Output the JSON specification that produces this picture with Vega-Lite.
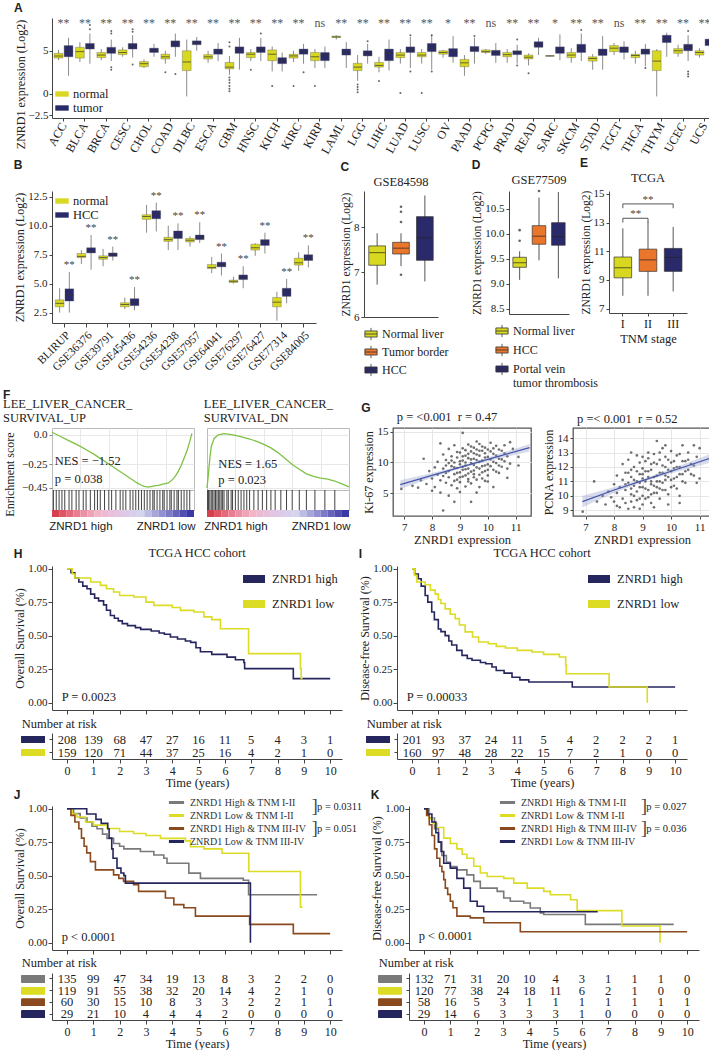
{
"$schema":"https://vega.github.io/schema/vega-lite/v6.json",
"background":"white",
"padding":{"left":3,"top":2,"right":2,"bottom":2},
"spacing":0,
"align":"none",
"resolve":{"scale":{"color":"independent","xOffset":"independent"},"legend":{"color":"independent"}},
"config":{
 "font":"Liberation Serif",
 "view":{"stroke":null},
 "axis":{"labelFont":"Liberation Serif","titleFont":"Liberation Serif","labelFontSize":11,"titleFontSize":12,"titleFontWeight":"normal","labelColor":"#222","titleColor":"#222","domainColor":"#444","tickColor":"#444","grid":false,"tickSize":3,"labelPadding":2,"titlePadding":3,"labelFlush":false,"labelOverlap":false},
 "legend":{"labelFont":"Liberation Serif","labelFontSize":12,"labelColor":"#222","titleFont":"Liberation Serif"},
 "title":{"font":"Liberation Serif","fontSize":12,"fontWeight":"normal","color":"#222","offset":3},
 "text":{"font":"Liberation Serif","color":"#222"},
 "concat":{"spacing":12}
},
"datasets":{
 "A":[
  {"type":"ACC","grp":"normal","lo":3.9,"q1":4.15,"med":4.4,"q3":4.7,"hi":5.1},{"type":"ACC","grp":"tumor","lo":2.1,"q1":4.3,"med":4.9,"q3":5.6,"hi":6.5},
  {"type":"BLCA","grp":"normal","lo":3.7,"q1":4.15,"med":4.9,"q3":5.4,"hi":6.0},{"type":"BLCA","grp":"tumor","lo":3.5,"q1":5.2,"med":5.5,"q3":5.85,"hi":7.0},
  {"type":"BRCA","grp":"normal","lo":3.9,"q1":4.2,"med":4.5,"q3":4.8,"hi":5.2},{"type":"BRCA","grp":"tumor","lo":3.8,"q1":4.7,"med":5.0,"q3":5.4,"hi":6.3},
  {"type":"CESC","grp":"normal","lo":4.3,"q1":4.55,"med":4.8,"q3":5.1,"hi":5.4},{"type":"CESC","grp":"tumor","lo":4.2,"q1":5.2,"med":5.5,"q3":5.85,"hi":6.8},
  {"type":"CHOL","grp":"normal","lo":3.0,"q1":3.15,"med":3.5,"q3":3.75,"hi":4.0},{"type":"CHOL","grp":"tumor","lo":4.3,"q1":4.8,"med":5.0,"q3":5.3,"hi":5.8},
  {"type":"COAD","grp":"normal","lo":3.5,"q1":4.05,"med":4.3,"q3":4.6,"hi":5.0},{"type":"COAD","grp":"tumor","lo":4.3,"q1":5.45,"med":5.8,"q3":6.15,"hi":7.0},
  {"type":"DLBC","grp":"normal","lo":-0.3,"q1":2.7,"med":3.7,"q3":5.0,"hi":6.3},{"type":"DLBC","grp":"tumor","lo":5.0,"q1":5.7,"med":5.9,"q3":6.15,"hi":6.6},
  {"type":"ESCA","grp":"normal","lo":3.6,"q1":4.05,"med":4.3,"q3":4.55,"hi":5.0},{"type":"ESCA","grp":"tumor","lo":3.8,"q1":4.6,"med":4.9,"q3":5.2,"hi":5.9},
  {"type":"GBM","grp":"normal","lo":2.2,"q1":2.9,"med":3.1,"q3":3.65,"hi":4.4},{"type":"GBM","grp":"tumor","lo":2.8,"q1":4.7,"med":5.1,"q3":5.45,"hi":6.5},
  {"type":"HNSC","grp":"normal","lo":3.8,"q1":4.2,"med":4.6,"q3":4.8,"hi":5.2},{"type":"HNSC","grp":"tumor","lo":3.8,"q1":4.8,"med":5.1,"q3":5.45,"hi":6.5},
  {"type":"KICH","grp":"normal","lo":2.6,"q1":3.85,"med":4.6,"q3":5.1,"hi":5.5},{"type":"KICH","grp":"tumor","lo":2.6,"q1":3.5,"med":3.8,"q3":4.2,"hi":4.8},
  {"type":"KIRC","grp":"normal","lo":3.7,"q1":4.15,"med":4.4,"q3":4.6,"hi":5.0},{"type":"KIRC","grp":"tumor","lo":3.5,"q1":4.6,"med":4.9,"q3":5.2,"hi":5.8},
  {"type":"KIRP","grp":"normal","lo":3.0,"q1":3.85,"med":4.3,"q3":4.8,"hi":5.2},{"type":"KIRP","grp":"tumor","lo":3.0,"q1":3.85,"med":4.5,"q3":4.8,"hi":5.5},
  {"type":"LAML","grp":"normal","lo":6.3,"q1":6.55,"med":6.6,"q3":6.7,"hi":6.8},{"type":"LAML","grp":"tumor","lo":3.0,"q1":4.5,"med":4.8,"q3":5.2,"hi":6.0},
  {"type":"LGG","grp":"normal","lo":1.5,"q1":2.7,"med":3.1,"q3":3.55,"hi":4.5},{"type":"LGG","grp":"tumor","lo":3.5,"q1":4.4,"med":4.7,"q3":5.0,"hi":5.8},
  {"type":"LIHC","grp":"normal","lo":2.5,"q1":3.1,"med":3.3,"q3":3.65,"hi":4.3},{"type":"LIHC","grp":"tumor","lo":2.7,"q1":3.85,"med":4.7,"q3":5.2,"hi":6.3},
  {"type":"LUAD","grp":"normal","lo":3.5,"q1":4.2,"med":4.5,"q3":4.8,"hi":5.2},{"type":"LUAD","grp":"tumor","lo":3.0,"q1":4.8,"med":5.1,"q3":5.45,"hi":6.6},
  {"type":"LUSC","grp":"normal","lo":3.5,"q1":4.3,"med":4.5,"q3":4.8,"hi":5.2},{"type":"LUSC","grp":"tumor","lo":2.8,"q1":4.9,"med":5.3,"q3":5.85,"hi":6.8},
  {"type":"OV","grp":"normal","lo":4.2,"q1":4.6,"med":4.8,"q3":5.0,"hi":5.1},{"type":"OV","grp":"tumor","lo":3.6,"q1":4.3,"med":4.8,"q3":5.25,"hi":6.7},
  {"type":"PAAD","grp":"normal","lo":2.1,"q1":3.15,"med":3.6,"q3":4.0,"hi":4.5},{"type":"PAAD","grp":"tumor","lo":3.5,"q1":4.9,"med":5.2,"q3":5.5,"hi":6.5},
  {"type":"PCPG","grp":"normal","lo":4.6,"q1":4.8,"med":4.9,"q3":5.1,"hi":5.2},{"type":"PCPG","grp":"tumor","lo":3.6,"q1":4.45,"med":4.75,"q3":5.05,"hi":5.9},
  {"type":"PRAD","grp":"normal","lo":3.6,"q1":4.3,"med":4.55,"q3":4.8,"hi":5.2},{"type":"PRAD","grp":"tumor","lo":3.5,"q1":4.55,"med":4.85,"q3":5.0,"hi":5.7},
  {"type":"READ","grp":"normal","lo":3.3,"q1":4.05,"med":4.25,"q3":4.5,"hi":4.7},{"type":"READ","grp":"tumor","lo":4.5,"q1":5.4,"med":5.75,"q3":6.05,"hi":6.5},
  {"type":"SARC","grp":"normal","lo":4.35,"q1":4.37,"med":4.4,"q3":4.43,"hi":4.45},{"type":"SARC","grp":"tumor","lo":3.9,"q1":4.7,"med":5.1,"q3":5.45,"hi":6.9},
  {"type":"SKCM","grp":"normal","lo":3.6,"q1":4.2,"med":4.5,"q3":4.8,"hi":5.3},{"type":"SKCM","grp":"tumor","lo":3.8,"q1":4.8,"med":5.3,"q3":5.75,"hi":7.0},
  {"type":"STAD","grp":"normal","lo":2.8,"q1":3.8,"med":4.1,"q3":4.3,"hi":4.6},{"type":"STAD","grp":"tumor","lo":2.8,"q1":4.45,"med":4.8,"q3":5.2,"hi":6.7},
  {"type":"TGCT","grp":"normal","lo":4.5,"q1":4.9,"med":5.3,"q3":5.6,"hi":5.9},{"type":"TGCT","grp":"tumor","lo":4.0,"q1":4.8,"med":5.2,"q3":5.45,"hi":6.1},
  {"type":"THCA","grp":"normal","lo":3.5,"q1":4.2,"med":4.45,"q3":4.6,"hi":5.0},{"type":"THCA","grp":"tumor","lo":3.2,"q1":4.6,"med":4.85,"q3":5.2,"hi":5.8},
  {"type":"THYM","grp":"normal","lo":-0.3,"q1":2.7,"med":3.8,"q3":5.0,"hi":5.2},{"type":"THYM","grp":"tumor","lo":4.3,"q1":5.95,"med":6.3,"q3":6.8,"hi":7.1},
  {"type":"UCEC","grp":"normal","lo":4.3,"q1":4.7,"med":5.0,"q3":5.25,"hi":5.7},{"type":"UCEC","grp":"tumor","lo":3.8,"q1":5.0,"med":5.4,"q3":5.75,"hi":6.8},
  {"type":"UCS","grp":"normal","lo":4.2,"q1":4.5,"med":4.8,"q3":5.0,"hi":5.3},{"type":"UCS","grp":"tumor","lo":5.0,"q1":5.6,"med":6.0,"q3":6.35,"hi":6.7}
 ],
 "Asig":[
  {"type":"ACC","sig":"**"},{"type":"BLCA","sig":"**"},{"type":"BRCA","sig":"**"},{"type":"CESC","sig":"**"},{"type":"CHOL","sig":"**"},{"type":"COAD","sig":"**"},{"type":"DLBC","sig":"**"},{"type":"ESCA","sig":"**"},{"type":"GBM","sig":"**"},{"type":"HNSC","sig":"**"},{"type":"KICH","sig":"**"},{"type":"KIRC","sig":"**"},{"type":"KIRP","sig":"ns"},{"type":"LAML","sig":"**"},{"type":"LGG","sig":"**"},{"type":"LIHC","sig":"**"},{"type":"LUAD","sig":"**"},{"type":"LUSC","sig":"**"},{"type":"OV","sig":"*"},{"type":"PAAD","sig":"**"},{"type":"PCPG","sig":"ns"},{"type":"PRAD","sig":"**"},{"type":"READ","sig":"**"},{"type":"SARC","sig":"*"},{"type":"SKCM","sig":"**"},{"type":"STAD","sig":"**"},{"type":"TGCT","sig":"ns"},{"type":"THCA","sig":"**"},{"type":"THYM","sig":"**"},{"type":"UCEC","sig":"**"},{"type":"UCS","sig":"**"}
 ],
 "Aout":[
  {"type":"BLCA","grp":"tumor","v":[7.5,8.0]},{"type":"BRCA","grp":"tumor","v":[2.8,3.1,7.0,7.3]},{"type":"CESC","grp":"tumor","v":[3.4,7.2,7.5]},{"type":"COAD","grp":"normal","v":[2.5]},{"type":"COAD","grp":"tumor","v":[2.3]},{"type":"GBM","grp":"normal","v":[0.3,0.6,0.9,1.3,1.6,1.9,5.5,6.0]},{"type":"HNSC","grp":"normal","v":[2.8]},{"type":"HNSC","grp":"tumor","v":[7.0]},{"type":"KICH","grp":"normal","v":[0.9]},{"type":"KIRC","grp":"normal","v":[0.9]},{"type":"KIRC","grp":"tumor","v":[2.5]},{"type":"KIRP","grp":"normal","v":[0.9]},{"type":"LGG","grp":"normal","v":[0.2,0.5,0.8,1.1]},{"type":"LGG","grp":"tumor","v":[6.1]},{"type":"LIHC","grp":"normal","v":[1.5]},{"type":"LUAD","grp":"normal","v":[0.1]},{"type":"LUAD","grp":"tumor","v":[2.6,6.8]},{"type":"LUSC","grp":"normal","v":[0.1]},{"type":"LUSC","grp":"tumor","v":[2.6,6.8]},{"type":"PAAD","grp":"tumor","v":[6.7]},{"type":"PRAD","grp":"tumor","v":[3.3,6.3]},{"type":"READ","grp":"normal","v":[2.4]},{"type":"SKCM","grp":"tumor","v":[7.4]},{"type":"THCA","grp":"tumor","v":[3.0]},{"type":"UCEC","grp":"tumor","v":[2.0,2.3,2.6,7.3]}
 ],
 "B":[
  {"ds":"BLIRUP","grp":"normal","lo":2.5,"q1":3.0,"med":3.3,"q3":3.6,"hi":4.6},{"ds":"BLIRUP","grp":"HCC","lo":2.5,"q1":3.5,"med":4.0,"q3":4.55,"hi":6.0},
  {"ds":"GSE36376","grp":"normal","lo":6.7,"q1":7.25,"med":7.35,"q3":7.6,"hi":7.9},{"ds":"GSE36376","grp":"HCC","lo":6.2,"q1":7.65,"med":7.8,"q3":8.1,"hi":9.2},
  {"ds":"GSE39791","grp":"normal","lo":6.5,"q1":7.1,"med":7.25,"q3":7.4,"hi":8.0},{"ds":"GSE39791","grp":"HCC","lo":7.0,"q1":7.35,"med":7.5,"q3":7.65,"hi":8.2},
  {"ds":"GSE45436","grp":"normal","lo":2.8,"q1":3.0,"med":3.2,"q3":3.35,"hi":3.8},{"ds":"GSE45436","grp":"HCC","lo":2.7,"q1":3.1,"med":3.4,"q3":3.7,"hi":4.7},
  {"ds":"GSE54236","grp":"normal","lo":9.4,"q1":10.55,"med":10.8,"q3":10.95,"hi":11.8},{"ds":"GSE54236","grp":"HCC","lo":9.5,"q1":10.6,"med":11.0,"q3":11.3,"hi":12.0},
  {"ds":"GSE54238","grp":"normal","lo":7.9,"q1":8.65,"med":8.8,"q3":9.0,"hi":10.0},{"ds":"GSE54238","grp":"HCC","lo":7.9,"q1":8.9,"med":9.2,"q3":9.55,"hi":10.2},
  {"ds":"GSE57957","grp":"normal","lo":8.2,"q1":8.6,"med":8.75,"q3":8.9,"hi":9.1},{"ds":"GSE57957","grp":"HCC","lo":8.5,"q1":8.8,"med":9.0,"q3":9.2,"hi":10.3},
  {"ds":"GSE64041","grp":"normal","lo":5.9,"q1":6.3,"med":6.4,"q3":6.65,"hi":7.3},{"ds":"GSE64041","grp":"HCC","lo":5.7,"q1":6.45,"med":6.6,"q3":6.85,"hi":7.6},
  {"ds":"GSE76297","grp":"normal","lo":5.0,"q1":5.1,"med":5.2,"q3":5.3,"hi":5.6},{"ds":"GSE76297","grp":"HCC","lo":4.6,"q1":5.35,"med":5.5,"q3":5.75,"hi":6.5},
  {"ds":"GSE76427","grp":"normal","lo":7.4,"q1":7.9,"med":8.1,"q3":8.4,"hi":8.5},{"ds":"GSE76427","grp":"HCC","lo":7.6,"q1":8.3,"med":8.6,"q3":8.8,"hi":9.4},
  {"ds":"GSE77314","grp":"normal","lo":1.8,"q1":3.0,"med":3.4,"q3":3.8,"hi":4.3},{"ds":"GSE77314","grp":"HCC","lo":3.3,"q1":3.9,"med":4.3,"q3":4.6,"hi":5.4},
  {"ds":"GSE84005","grp":"normal","lo":6.1,"q1":6.6,"med":6.8,"q3":7.2,"hi":7.7},{"ds":"GSE84005","grp":"HCC","lo":6.4,"q1":7.0,"med":7.2,"q3":7.5,"hi":8.3}
 ],
 "C":[{"g":"Normal liver","lo":6.72,"q1":7.15,"med":7.43,"q3":7.58,"hi":7.86},{"g":"Tumor border","lo":7.13,"q1":7.4,"med":7.53,"q3":7.66,"hi":7.86},{"g":"HCC","lo":6.79,"q1":7.26,"med":7.76,"q3":8.23,"hi":8.7}],
 "Cout":[{"g":"Tumor border","v":[8.45,8.34,8.11,6.94]}],
 "D":[{"g":"Normal liver","lo":9.08,"q1":9.33,"med":9.42,"q3":9.53,"hi":9.65},{"g":"HCC","lo":9.47,"q1":9.79,"med":9.95,"q3":10.16,"hi":10.72},{"g":"Portal vein tumor thrombosis","lo":9.11,"q1":9.77,"med":9.94,"q3":10.22,"hi":10.83}],
 "Dout":[{"g":"Normal liver","v":[10.07,9.86]},{"g":"HCC","v":[10.85]}],
 "E":[{"s":"I","lo":7.9,"q1":9.15,"med":9.85,"q3":10.6,"hi":12.6},{"s":"II","lo":7.9,"q1":9.6,"med":10.4,"q3":11.15,"hi":13.05},{"s":"III","lo":8.2,"q1":9.6,"med":10.57,"q3":11.2,"hi":12.7}],
 "F1":[{"x":[0,0.05,0.1,0.15,0.2,0.25,0.3,0.35,0.4,0.45,0.5,0.55,0.6,0.63,0.65,0.68,0.72,0.75,0.78,0.82,0.85,0.87,0.89,0.91,0.93,0.95,0.97,0.985],
        "es":[0.02,-0.01,-0.04,-0.07,-0.1,-0.135,-0.17,-0.21,-0.25,-0.29,-0.33,-0.37,-0.41,-0.43,-0.44,-0.445,-0.435,-0.43,-0.42,-0.41,-0.38,-0.35,-0.31,-0.26,-0.2,-0.14,-0.06,0.01]}],
 "F1hits":[{"x":[0.01,0.03,0.05,0.07,0.09,0.12,0.14,0.17,0.19,0.22,0.24,0.27,0.3,0.32,0.34,0.37,0.4,0.42,0.45,0.48,0.5,0.52,0.55,0.57,0.59,0.61,0.63,0.65,0.67,0.69,0.71,0.72,0.74,0.76,0.78,0.79,0.81,0.83,0.84,0.86,0.88,0.89,0.91,0.93,0.95,0.97]}],
 "F2":[{"x":[0,0.01,0.02,0.03,0.05,0.08,0.12,0.16,0.2,0.25,0.3,0.35,0.4,0.45,0.5,0.55,0.6,0.65,0.7,0.75,0.8,0.85,0.9,0.95,1.0],
        "es":[0,0.12,0.25,0.35,0.42,0.45,0.46,0.455,0.445,0.43,0.415,0.395,0.37,0.34,0.3,0.25,0.2,0.16,0.12,0.1,0.085,0.075,0.06,0.035,0.01]}],
 "F2hits":[{"x":[0.005,0.01,0.02,0.03,0.04,0.05,0.06,0.07,0.08,0.09,0.1,0.11,0.12,0.14,0.15,0.17,0.18,0.2,0.22,0.24,0.26,0.28,0.3,0.33,0.36,0.39,0.42,0.45,0.48,0.52,0.56,0.6,0.65,0.7,0.76,0.83,0.9]}],
 "heat":[{"p0":0,"p1":0.05},{"p0":0.05,"p1":0.1},{"p0":0.1,"p1":0.15},{"p0":0.15,"p1":0.2},{"p0":0.2,"p1":0.25},{"p0":0.25,"p1":0.3},{"p0":0.3,"p1":0.35},{"p0":0.35,"p1":0.4},{"p0":0.4,"p1":0.45},{"p0":0.45,"p1":0.5},{"p0":0.5,"p1":0.55},{"p0":0.55,"p1":0.6},{"p0":0.6,"p1":0.65},{"p0":0.65,"p1":0.7},{"p0":0.7,"p1":0.75},{"p0":0.75,"p1":0.8},{"p0":0.8,"p1":0.85},{"p0":0.85,"p1":0.9},{"p0":0.9,"p1":0.95},{"p0":0.95,"p1":1.0}],
 "G1":[
  {"x":6.9,"y":5.7},{"x":7.3,"y":6.2},{"x":7.5,"y":5.9},{"x":7.6,"y":7.1},{"x":7.8,"y":6.5},{"x":7.9,"y":8.6},{"x":8.0,"y":5.4},{"x":8.0,"y":7.4},{"x":8.1,"y":9.2},{"x":8.1,"y":6.0},
  {"x":8.2,"y":8.0},{"x":8.2,"y":10.1},{"x":8.3,"y":7.1},{"x":8.3,"y":5.1},{"x":8.4,"y":2.2},{"x":8.4,"y":9.0},{"x":8.4,"y":11.3},{"x":8.5,"y":6.7},{"x":8.5,"y":8.3},{"x":8.5,"y":10.4},
  {"x":8.6,"y":7.6},{"x":8.6,"y":12.2},{"x":8.6,"y":4.6},{"x":8.7,"y":9.4},{"x":8.7,"y":6.3},{"x":8.7,"y":11.0},{"x":8.8,"y":8.1},{"x":8.8,"y":10.0},{"x":8.8,"y":3.6},{"x":8.8,"y":12.8},
  {"x":8.9,"y":7.2},{"x":8.9,"y":9.1},{"x":8.9,"y":10.8},{"x":8.9,"y":5.8},{"x":9.0,"y":8.4},{"x":9.0,"y":11.6},{"x":9.0,"y":6.8},{"x":9.0,"y":9.7},{"x":9.1,"y":14.8},{"x":9.1,"y":7.7},
  {"x":9.1,"y":10.3},{"x":9.1,"y":12.3},{"x":9.2,"y":8.9},{"x":9.2,"y":6.1},{"x":9.2,"y":11.1},{"x":9.2,"y":9.5},{"x":9.3,"y":7.3},{"x":9.3,"y":10.7},{"x":9.3,"y":12.9},{"x":9.3,"y":8.2},
  {"x":9.4,"y":9.9},{"x":9.4,"y":11.8},{"x":9.4,"y":6.6},{"x":9.4,"y":3.6},{"x":9.5,"y":8.7},{"x":9.5,"y":10.6},{"x":9.5,"y":12.4},{"x":9.5,"y":7.6},{"x":9.6,"y":9.2},{"x":9.6,"y":11.3},
  {"x":9.6,"y":13.4},{"x":9.7,"y":8.0},{"x":9.7,"y":10.1},{"x":9.7,"y":11.9},{"x":9.7,"y":6.0},{"x":9.8,"y":9.4},{"x":9.8,"y":12.6},{"x":9.8,"y":7.4},{"x":9.9,"y":10.8},{"x":9.9,"y":8.6},
  {"x":9.9,"y":11.5},{"x":10.0,"y":9.7},{"x":10.0,"y":12.1},{"x":10.0,"y":7.9},{"x":10.0,"y":6.9},{"x":10.1,"y":10.5},{"x":10.1,"y":13.2},{"x":10.2,"y":8.8},{"x":10.2,"y":11.4},{"x":10.2,"y":6.0},
  {"x":10.3,"y":9.9},{"x":10.3,"y":12.7},{"x":10.4,"y":10.6},{"x":10.4,"y":8.3},{"x":10.5,"y":11.9},{"x":10.5,"y":9.3},{"x":10.6,"y":12.8},{"x":10.6,"y":10.2},{"x":10.7,"y":11.0},{"x":10.7,"y":7.5},
  {"x":10.8,"y":9.8},{"x":10.9,"y":12.2},{"x":11.1,"y":10.9},{"x":11.1,"y":9.5},{"x":7.7,"y":10.6},{"x":8.3,"y":13.1},{"x":9.6,"y":5.1},{"x":10.8,"y":13.3},{"x":9.0,"y":5.2},{"x":8.6,"y":9.9},
  {"x":8.4,"y":7.8},{"x":8.5,"y":9.5},{"x":8.6,"y":8.6},{"x":8.7,"y":10.3},{"x":8.8,"y":9.2},{"x":8.8,"y":7.0},{"x":8.9,"y":8.3},{"x":8.9,"y":11.7},{"x":9.0,"y":10.2},{"x":9.0,"y":7.6},
  {"x":9.1,"y":8.8},{"x":9.1,"y":11.0},{"x":9.1,"y":9.3},{"x":9.2,"y":10.0},{"x":9.2,"y":7.9},{"x":9.2,"y":12.0},{"x":9.3,"y":9.0},{"x":9.3,"y":11.4},{"x":9.3,"y":6.9},{"x":9.4,"y":8.5},
  {"x":9.4,"y":10.5},{"x":9.4,"y":12.6},{"x":9.5,"y":9.6},{"x":9.5,"y":11.5},{"x":9.5,"y":8.1},{"x":9.6,"y":10.4},{"x":9.6,"y":7.2},{"x":9.6,"y":12.1},{"x":9.7,"y":9.0},{"x":9.7,"y":11.1},
  {"x":9.7,"y":13.0},{"x":9.8,"y":10.3},{"x":9.8,"y":8.4},{"x":9.8,"y":11.9},{"x":9.9,"y":9.5},{"x":9.9,"y":12.4},{"x":9.9,"y":7.0},{"x":10.0,"y":10.9},{"x":10.0,"y":8.8},{"x":10.1,"y":9.4},
  {"x":10.1,"y":11.8},{"x":10.2,"y":10.1},{"x":10.2,"y":12.3},{"x":10.3,"y":11.1},{"x":10.3,"y":8.5},{"x":10.4,"y":9.5},{"x":10.4,"y":12.1},{"x":10.5,"y":10.5},{"x":10.6,"y":11.5},{"x":10.7,"y":9.0}
 ],
 "G1fit":[{"x":6.86,"y":6.4,"lo":5.7,"hi":7.1},{"x":8,"y":7.9,"lo":7.5,"hi":8.3},{"x":9,"y":9.2,"lo":9.0,"hi":9.4},{"x":10,"y":10.5,"lo":10.2,"hi":10.8},{"x":11.5,"y":12.4,"lo":11.8,"hi":13.0}],
 "G2":[
  {"x":6.9,"y":8.9},{"x":7.3,"y":11.0},{"x":7.4,"y":9.6},{"x":7.6,"y":10.0},{"x":7.7,"y":9.4},{"x":7.8,"y":10.3},{"x":7.9,"y":9.9},{"x":8.0,"y":10.8},{"x":8.0,"y":9.6},{"x":8.1,"y":10.2},
  {"x":8.1,"y":11.4},{"x":8.2,"y":9.2},{"x":8.2,"y":10.6},{"x":8.3,"y":11.1},{"x":8.3,"y":9.8},{"x":8.3,"y":12.2},{"x":8.4,"y":10.4},{"x":8.4,"y":9.5},{"x":8.4,"y":11.6},{"x":8.5,"y":10.9},
  {"x":8.5,"y":9.1},{"x":8.5,"y":12.5},{"x":8.6,"y":10.1},{"x":8.6,"y":11.3},{"x":8.6,"y":9.6},{"x":8.7,"y":10.7},{"x":8.7,"y":12.0},{"x":8.7,"y":9.2},{"x":8.8,"y":11.0},{"x":8.8,"y":10.3},
  {"x":8.8,"y":12.8},{"x":8.9,"y":9.8},{"x":8.9,"y":11.5},{"x":8.9,"y":10.6},{"x":9.0,"y":11.9},{"x":9.0,"y":10.0},{"x":9.0,"y":9.4},{"x":9.0,"y":11.2},{"x":9.1,"y":12.4},{"x":9.1,"y":10.5},
  {"x":9.1,"y":11.0},{"x":9.2,"y":13.0},{"x":9.2,"y":9.9},{"x":9.2,"y":11.7},{"x":9.3,"y":10.8},{"x":9.3,"y":12.2},{"x":9.3,"y":9.5},{"x":9.4,"y":11.3},{"x":9.4,"y":10.2},{"x":9.4,"y":12.9},
  {"x":9.5,"y":13.8},{"x":9.5,"y":11.0},{"x":9.5,"y":10.6},{"x":9.6,"y":12.5},{"x":9.6,"y":11.6},{"x":9.6,"y":9.8},{"x":9.7,"y":10.9},{"x":9.7,"y":12.1},{"x":9.7,"y":13.3},{"x":9.8,"y":11.4},
  {"x":9.8,"y":10.4},{"x":9.8,"y":12.7},{"x":9.9,"y":11.8},{"x":9.9,"y":10.1},{"x":10.0,"y":12.3},{"x":10.0,"y":11.1},{"x":10.0,"y":13.1},{"x":10.1,"y":10.7},{"x":10.1,"y":11.9},{"x":10.2,"y":12.8},
  {"x":10.2,"y":11.3},{"x":10.3,"y":10.0},{"x":10.3,"y":12.0},{"x":10.4,"y":11.5},{"x":10.4,"y":13.5},{"x":10.5,"y":12.4},{"x":10.5,"y":10.9},{"x":10.6,"y":11.8},{"x":10.6,"y":13.0},{"x":10.7,"y":12.2},
  {"x":10.8,"y":11.4},{"x":10.8,"y":13.5},{"x":10.9,"y":12.7},{"x":11.0,"y":11.2},{"x":11.0,"y":13.3},{"x":10.3,"y":9.5},{"x":8.6,"y":13.0},{"x":9.9,"y":9.4},{"x":10.9,"y":10.9},{"x":9.4,"y":9.2},
  {"x":8.9,"y":9.1},{"x":8.1,"y":9.3},
  {"x":8.4,"y":10.8},{"x":8.5,"y":11.6},{"x":8.6,"y":10.5},{"x":8.7,"y":11.1},{"x":8.7,"y":10.0},{"x":8.8,"y":11.7},{"x":8.8,"y":9.7},{"x":8.9,"y":10.9},{"x":8.9,"y":12.3},{"x":9.0,"y":10.6},
  {"x":9.0,"y":11.5},{"x":9.1,"y":9.8},{"x":9.1,"y":11.7},{"x":9.2,"y":10.4},{"x":9.2,"y":11.3},{"x":9.2,"y":12.6},{"x":9.3,"y":11.0},{"x":9.3,"y":10.1},{"x":9.3,"y":11.8},{"x":9.4,"y":10.7},
  {"x":9.4,"y":12.3},{"x":9.5,"y":11.4},{"x":9.5,"y":10.2},{"x":9.5,"y":12.2},{"x":9.6,"y":11.0},{"x":9.6,"y":10.5},{"x":9.6,"y":13.0},{"x":9.7,"y":11.6},{"x":9.7,"y":10.4},{"x":9.8,"y":12.0},
  {"x":9.8,"y":11.1},{"x":9.8,"y":13.5},{"x":9.9,"y":11.3},{"x":9.9,"y":12.5},{"x":10.0,"y":10.6},{"x":10.0,"y":11.7},{"x":10.1,"y":12.4},{"x":10.1,"y":11.2},{"x":10.2,"y":10.5},{"x":10.2,"y":12.0},
  {"x":10.3,"y":11.5},{"x":10.3,"y":12.9},{"x":10.4,"y":11.0},{"x":10.4,"y":12.4},{"x":10.5,"y":11.7},{"x":10.6,"y":12.5},{"x":10.7,"y":11.5},{"x":10.8,"y":12.1},{"x":9.0,"y":12.7},{"x":8.6,"y":11.8}
 ],
 "G2fit":[{"x":6.89,"y":9.6,"lo":9.2,"hi":10.0},{"x":8,"y":10.4,"lo":10.2,"hi":10.6},{"x":9,"y":11.05,"lo":10.95,"hi":11.15},{"x":10,"y":11.7,"lo":11.55,"hi":11.85},{"x":11.37,"y":12.6,"lo":12.3,"hi":12.9}],
 "H":[
  {"g":"ZNRD1 high","t":[0,0.15,0.3,0.45,0.6,0.76,0.9,1.05,1.2,1.39,1.5,1.65,1.8,1.95,2.1,2.3,2.6,2.8,3.2,3.5,3.7,3.93,4.2,4.5,4.7,4.9,5.07,5.5,6.08,6.4,6.72,6.75,8.6,10],
   "s":[1,0.97,0.93,0.9,0.87,0.85,0.81,0.78,0.76,0.73,0.69,0.65,0.63,0.61,0.59,0.575,0.56,0.547,0.535,0.52,0.51,0.49,0.475,0.46,0.45,0.41,0.38,0.36,0.34,0.32,0.3,0.254,0.179,0.179]},
  {"g":"ZNRD1 low","t":[0,0.2,0.3,0.9,1.27,1.5,1.77,2.0,2.54,3.0,3.3,4.0,4.31,4.82,5.2,5.5,5.83,6.9,8.87,8.9,8.95],
   "s":[1,0.96,0.93,0.9,0.875,0.85,0.826,0.8,0.789,0.75,0.726,0.71,0.689,0.677,0.64,0.62,0.552,0.366,0.254,0.179,0.179]}
 ],
 "I":[
  {"g":"ZNRD1 high","t":[0,0.1,0.24,0.35,0.5,0.6,0.75,0.85,1.0,1.1,1.26,1.4,1.51,1.7,1.9,2.1,2.28,2.6,2.8,3.04,3.2,3.5,3.8,4.1,4.44,6.09,10],
   "s":[1,0.96,0.925,0.87,0.8,0.75,0.677,0.62,0.55,0.53,0.5,0.46,0.43,0.39,0.353,0.33,0.316,0.3,0.29,0.266,0.24,0.22,0.19,0.17,0.154,0.117,0.117]},
  {"g":"ZNRD1 low","t":[0,0.1,0.18,0.5,0.7,0.88,1.0,1.1,1.26,1.45,1.64,1.8,2.02,2.3,2.53,2.9,3.2,3.55,4.0,4.56,5.0,5.6,5.84,5.86,7.49,8.94],
   "s":[1,0.95,0.9,0.88,0.84,0.81,0.77,0.74,0.7,0.66,0.627,0.58,0.528,0.49,0.453,0.44,0.42,0.408,0.39,0.378,0.36,0.341,0.279,0.216,0.117,0.0]}
 ],
 "J":[
  {"g":"ZNRD1 High & TNM I-II","t":[0,0.25,0.5,0.76,0.95,1.14,1.35,1.52,1.77,2.0,2.16,2.79,3.3,3.68,3.8,4.63,5.07,6.7,6.9,9.5],
   "s":[1,0.963,0.93,0.9,0.87,0.85,0.81,0.778,0.74,0.72,0.7,0.68,0.654,0.63,0.593,0.519,0.48,0.466,0.358,0.358]},
  {"g":"ZNRD1 Low & TNM I-II","t":[0,0.2,0.38,0.7,1.01,1.52,2.0,2.53,3.0,3.55,4.5,4.69,5.2,5.89,6.91,8.87,8.95],
   "s":[1,0.96,0.938,0.9,0.877,0.852,0.83,0.815,0.8,0.778,0.76,0.716,0.7,0.667,0.531,0.265,0.265]},
  {"g":"ZNRD1 High & TNM III-IV","t":[0,0.15,0.3,0.45,0.55,0.65,0.75,0.89,1.08,1.77,1.97,2.15,2.53,2.72,3.74,4.06,4.44,4.88,6.94,8.6,10],
   "s":[1,0.95,0.9,0.85,0.78,0.72,0.67,0.605,0.543,0.506,0.48,0.457,0.432,0.383,0.333,0.284,0.26,0.198,0.136,0.067,0.067]},
  {"g":"ZNRD1 Low & TNM III-IV","t":[0,0.75,1.1,1.3,1.55,1.6,1.7,1.75,1.9,2.05,2.16,2.22,6.97],
   "s":[1,0.96,0.92,0.89,0.85,0.78,0.7,0.63,0.556,0.52,0.5,0.444,0.0]}
 ],
 "K":[
  {"g":"ZNRD1 High & TNM I-II","t":[0,0.2,0.4,0.55,0.68,0.85,1.0,1.25,1.63,1.89,2.14,2.78,3.03,3.28,3.79,4.04,4.42,4.55,6.13,9.49],
   "s":[1,0.93,0.85,0.75,0.65,0.6,0.568,0.543,0.506,0.457,0.407,0.383,0.333,0.309,0.296,0.259,0.222,0.21,0.136,0.136]},
  {"g":"ZNRD1 Low & TNM I-II","t":[0,0.18,0.35,0.5,0.75,1.0,1.25,1.45,1.63,1.89,2.14,2.4,3.03,3.41,3.92,4.55,4.8,5.57,5.82,7.52,8.97],
   "s":[1,0.926,0.89,0.86,0.78,0.74,0.7,0.66,0.63,0.57,0.52,0.494,0.48,0.444,0.407,0.383,0.358,0.32,0.239,0.124,0.0]},
  {"g":"ZNRD1 High & TNM III-IV","t":[0,0.1,0.2,0.3,0.4,0.49,0.6,0.68,0.75,0.81,0.9,1.0,1.1,1.25,1.76,2.27,3.66,10],
   "s":[1,0.95,0.88,0.8,0.7,0.63,0.57,0.53,0.47,0.407,0.36,0.309,0.26,0.198,0.185,0.148,0.081,0.081]},
  {"g":"ZNRD1 Low & TNM III-IV","t":[0,0.15,0.3,0.45,0.55,0.65,0.75,1.0,1.25,1.51,1.76,2.02,2.27,6.6],
   "s":[1,0.96,0.9,0.82,0.75,0.68,0.593,0.556,0.48,0.407,0.309,0.272,0.23,0.23]}
 ],
 "Hrisk":[{"g":"ZNRD1 high","t":[0,1,2,3,4,5,6,7,8,9,10],"n":[208,139,68,47,27,16,11,5,4,3,1]},{"g":"ZNRD1 low","t":[0,1,2,3,4,5,6,7,8,9,10],"n":[159,120,71,44,37,25,16,4,2,1,0]}],
 "Irisk":[{"g":"ZNRD1 high","t":[0,1,2,3,4,5,6,7,8,9,10],"n":[201,93,37,24,11,5,4,2,2,2,1]},{"g":"ZNRD1 low","t":[0,1,2,3,4,5,6,7,8,9,10],"n":[160,97,48,28,22,15,7,2,1,0,0]}],
 "Jrisk":[{"g":"ZNRD1 High & TNM I-II","t":[0,1,2,3,4,5,6,7,8,9,10],"n":[135,99,47,34,19,13,8,3,2,2,0]},{"g":"ZNRD1 Low & TNM I-II","t":[0,1,2,3,4,5,6,7,8,9,10],"n":[119,91,55,38,32,20,14,4,2,1,0]},{"g":"ZNRD1 High & TNM III-IV","t":[0,1,2,3,4,5,6,7,8,9,10],"n":[60,30,15,10,8,3,3,2,2,1,1]},{"g":"ZNRD1 Low & TNM III-IV","t":[0,1,2,3,4,5,6,7,8,9,10],"n":[29,21,10,4,4,4,2,0,0,0,0]}],
 "Krisk":[{"g":"ZNRD1 High & TNM I-II","t":[0,1,2,3,4,5,6,7,8,9,10],"n":[132,71,31,20,10,4,3,1,1,1,0]},{"g":"ZNRD1 Low & TNM I-II","t":[0,1,2,3,4,5,6,7,8,9,10],"n":[120,77,38,24,18,11,6,2,1,0,0]},{"g":"ZNRD1 High & TNM III-IV","t":[0,1,2,3,4,5,6,7,8,9,10],"n":[58,16,5,3,1,1,1,1,1,1,1]},{"g":"ZNRD1 Low & TNM III-IV","t":[0,1,2,3,4,5,6,7,8,9,10],"n":[29,14,6,3,3,3,1,0,0,0,0]}]
},
"vconcat":[
 {
  "title":{"text":"A","anchor":"start","font":"Liberation Sans","fontWeight":"bold","fontSize":12,"offset":2,"frame":"bounds"},
  "width":664,"height":100,
  "layer":[
   {"data":{"name":"A"},"mark":{"type":"rule","color":"#8c8c8c"},
    "encoding":{
     "x":{"field":"type","type":"nominal","sort":null,"scale":{"domain":["ACC","BLCA","BRCA","CESC","CHOL","COAD","DLBC","ESCA","GBM","HNSC","KICH","KIRC","KIRP","LAML","LGG","LIHC","LUAD","LUSC","OV","PAAD","PCPG","PRAD","READ","SARC","SKCM","STAD","TGCT","THCA","THYM","UCEC","UCS"],"paddingInner":0.12,"paddingOuter":0.1},"axis":{"title":null,"labelAngle":-60,"labelFontSize":12,"tickSize":3}},
     "xOffset":{"field":"grp","type":"nominal","scale":{"domain":["normal","tumor"],"paddingInner":0.12}},
     "y":{"field":"lo","type":"quantitative","scale":{"domain":[-2.8,8.8],"nice":false,"zero":false},"axis":{"values":[-2.5,0,5],"tickCount":20,"format":".1~f","title":"ZNRD1 expression (Log2)","titleY":66,"titlePadding":1,"labelPadding":1}},
     "y2":{"field":"hi"}}},
   {"data":{"name":"A"},"mark":{"type":"bar","stroke":"#555","strokeWidth":0.5,"strokeOpacity":0.7},
    "encoding":{"x":{"field":"type","type":"nominal","sort":null},"xOffset":{"field":"grp","type":"nominal"},"y":{"field":"q1","type":"quantitative"},"y2":{"field":"q3"},
     "color":{"field":"grp","type":"nominal","scale":{"domain":["normal","tumor"],"range":["#d8d820","#2a2a6a"]},"legend":{"title":null,"orient":"bottom-left","symbolType":"M-1,-0.4H1V0.4H-1Z","symbolSize":180,"symbolStrokeWidth":0,"labelFontSize":12.5,"offset":3,"rowPadding":0,"padding":0}}}},
   {"data":{"name":"A"},"mark":{"type":"tick","color":"#333","thickness":1,"size":8.5},"encoding":{"x":{"field":"type","type":"nominal","sort":null},"xOffset":{"field":"grp","type":"nominal"},"y":{"field":"med","type":"quantitative"}}},
   {"data":{"name":"Aout"},"transform":[{"flatten":["v"]}],"mark":{"type":"circle","color":"#222","size":4},"encoding":{"x":{"field":"type","type":"nominal","sort":null},"xOffset":{"field":"grp","type":"nominal"},"y":{"field":"v","type":"quantitative"}}},
   {"data":{"name":"Asig"},"mark":{"type":"text","fontSize":12,"color":"#555","baseline":"middle"},"encoding":{"x":{"field":"type","type":"nominal","sort":null},"y":{"datum":8.2},"text":{"field":"sig"}}}
  ]
 },
 {
  "spacing":24,
  "resolve":{"scale":{"color":"independent","xOffset":"independent"},"legend":{"color":"independent"}},
  "hconcat":[
   {
    "title":{"text":"B","anchor":"start","font":"Liberation Sans","fontWeight":"bold","fontSize":12,"offset":18,"frame":"bounds"},
    "width":264,"height":132,
    "data":{"name":"B"},
    "layer":[
     {"mark":{"type":"rule","color":"#8c8c8c"},
      "encoding":{
       "x":{"field":"ds","type":"nominal","sort":null,"scale":{"paddingInner":0.15,"paddingOuter":0.15},"axis":{"title":null,"labelAngle":-45,"labelFontSize":11.5,"tickSize":4}},
       "xOffset":{"field":"grp","type":"nominal","scale":{"domain":["normal","HCC"],"paddingInner":0.1}},
       "y":{"field":"lo","type":"quantitative","scale":{"domain":[1.6,13],"nice":false,"zero":false},"axis":{"values":[2.5,5,7.5,10,12.5],"tickCount":20,"format":".1f","title":"ZNRD1 expression (Log2)","titlePadding":1}},
       "y2":{"field":"hi"}}},
     {"mark":{"type":"bar","stroke":"#555","strokeWidth":0.5,"strokeOpacity":0.7},
      "encoding":{"x":{"field":"ds","type":"nominal","sort":null},"xOffset":{"field":"grp","type":"nominal"},"y":{"field":"q1","type":"quantitative"},"y2":{"field":"q3"},
       "color":{"field":"grp","type":"nominal","scale":{"domain":["normal","HCC"],"range":["#d8d820","#2a2a6a"]},"legend":{"title":null,"orient":"top-left","symbolType":"M-1,-0.4H1V0.4H-1Z","symbolSize":180,"symbolStrokeWidth":0,"labelFontSize":12.5,"offset":3,"rowPadding":0,"padding":0}}}},
     {"mark":{"type":"tick","color":"#333","thickness":1,"size":8.5},"encoding":{"x":{"field":"ds","type":"nominal","sort":null},"xOffset":{"field":"grp","type":"nominal"},"y":{"field":"med","type":"quantitative"}}},
     {"transform":[{"filter":"datum.grp == 'HCC'"}],"mark":{"type":"text","fontSize":11,"color":"#444","dy":-7},"encoding":{"x":{"field":"ds","type":"nominal","sort":null},"xOffset":{"field":"grp","type":"nominal"},"y":{"field":"hi","type":"quantitative"},"text":{"value":"**"}}}
    ]
   },
   {
    "spacing":22,
    "resolve":{"scale":{"color":"independent"},"legend":{"color":"independent"}},
    "hconcat":[
     {
      "title":{"text":"C","anchor":"start","font":"Liberation Sans","fontWeight":"bold","fontSize":12,"offset":2,"frame":"bounds"},
      "vconcat":[{
       "title":{"text":"GSE84598","fontSize":12.5},
       "width":74,"height":126,
       "layer":[
        {"data":{"name":"C"},"mark":{"type":"rule","color":"#555"},"encoding":{"x":{"field":"g","type":"nominal","sort":null,"scale":{"domain":["Normal liver","Tumor border","HCC"],"paddingInner":0.3,"paddingOuter":0.2},"axis":{"labels":false,"ticks":false,"title":null}},"y":{"field":"lo","type":"quantitative","scale":{"domain":[6,8.8],"nice":false,"zero":false},"axis":{"values":[6,7,8],"tickCount":20,"format":"d","title":"ZNRD1 expression (Log2)","titleFontSize":11.5,"titlePadding":2}},"y2":{"field":"hi"}}},
        {"data":{"name":"C"},"mark":{"type":"bar","stroke":"#333","strokeWidth":0.7},"encoding":{"x":{"field":"g","type":"nominal","sort":null},"y":{"field":"q1","type":"quantitative"},"y2":{"field":"q3"},"color":{"field":"g","type":"nominal","scale":{"domain":["Normal liver","Tumor border","HCC"],"range":["#d8d820","#ea762c","#2a2a6a"]},"legend":{"title":null,"orient":"bottom","direction":"vertical","offset":5,"symbolType":"M-1,-0.5H1V0.5H-1Z M-1,0H1 M0,-0.5V-1 M0,0.5V1","symbolSize":150,"symbolStrokeColor":"#333","symbolStrokeWidth":0.8,"rowPadding":2,"labelFontSize":12,"labelOffset":4}}}},
        {"data":{"name":"C"},"mark":{"type":"tick","color":"#222","thickness":1,"size":16},"encoding":{"x":{"field":"g","type":"nominal","sort":null},"y":{"field":"med","type":"quantitative"}}},
        {"data":{"name":"Cout"},"transform":[{"flatten":["v"]}],"mark":{"type":"circle","color":"#222","size":7},"encoding":{"x":{"field":"g","type":"nominal","sort":null},"y":{"field":"v","type":"quantitative"}}}
       ]
      }]
     },
     {
      "spacing":-20,
      "resolve":{"scale":{"color":"independent"},"legend":{"color":"independent"}},
      "hconcat":[
       {
        "title":{"text":"D","anchor":"start","font":"Liberation Sans","fontWeight":"bold","fontSize":12,"offset":2,"frame":"bounds"},
        "vconcat":[{
         "title":{"text":"GSE77509","fontSize":12.5},
         "width":60,"height":123,
         "layer":[
          {"data":{"name":"D"},"mark":{"type":"rule","color":"#555"},"encoding":{"x":{"field":"g","type":"nominal","sort":null,"scale":{"domain":["Normal liver","HCC","Portal vein tumor thrombosis"],"paddingInner":0.3,"paddingOuter":0.2},"axis":{"labels":false,"ticks":false,"title":null}},"y":{"field":"lo","type":"quantitative","scale":{"domain":[8.4,10.85],"nice":false,"zero":false},"axis":{"values":[8.5,9,9.5,10,10.5],"tickCount":20,"format":".1f","title":"ZNRD1 expression (Log2)","titleFontSize":11.5,"titlePadding":2}},"y2":{"field":"hi"}}},
          {"data":{"name":"D"},"mark":{"type":"bar","stroke":"#333","strokeWidth":0.7},"encoding":{"x":{"field":"g","type":"nominal","sort":null},"y":{"field":"q1","type":"quantitative"},"y2":{"field":"q3"},"color":{"field":"g","type":"nominal","scale":{"domain":["Normal liver","HCC","Portal vein tumor thrombosis"],"range":["#d8d820","#ea762c","#2a2a6a"]},"legend":{"title":null,"orient":"none","legendX":-14,"legendY":133,"direction":"vertical","symbolType":"M-1,-0.5H1V0.5H-1Z M-1,0H1 M0,-0.5V-1 M0,0.5V1","symbolSize":150,"symbolStrokeColor":"#333","symbolStrokeWidth":0.8,"rowPadding":3,"labelFontSize":12,"labelOffset":4,"labelExpr":"datum.label == 'Portal vein tumor thrombosis' ? ['Portal vein', 'tumor thrombosis'] : datum.label"}}}},
          {"data":{"name":"D"},"mark":{"type":"tick","color":"#222","thickness":1,"size":13},"encoding":{"x":{"field":"g","type":"nominal","sort":null},"y":{"field":"med","type":"quantitative"}}},
          {"data":{"name":"Dout"},"transform":[{"flatten":["v"]}],"mark":{"type":"circle","color":"#222","size":7},"encoding":{"x":{"field":"g","type":"nominal","sort":null},"y":{"field":"v","type":"quantitative"}}}
         ]
        }]
       },
       {
        "title":{"text":"E","anchor":"start","font":"Liberation Sans","fontWeight":"bold","fontSize":12,"offset":2,"frame":"bounds"},
        "vconcat":[{
         "title":{"text":"TCGA","fontSize":12.5},
         "width":78,"height":122,
         "layer":[
          {"data":{"name":"E"},"mark":{"type":"rule","color":"#555"},"encoding":{"x":{"field":"s","type":"nominal","sort":null,"scale":{"domain":["I","II","III"],"paddingInner":0.3,"paddingOuter":0.2},"axis":{"title":"TNM stage","labelAngle":0,"labelFontSize":12,"titleFontSize":12.5}},"y":{"field":"lo","type":"quantitative","scale":{"domain":[6.7,15.2],"nice":false,"zero":false},"axis":{"values":[7,9,11,13,15],"tickCount":20,"format":"d","title":"ZNRD1 expression (Log2)","titleFontSize":11.5,"titlePadding":2}},"y2":{"field":"hi"}}},
          {"data":{"name":"E"},"mark":{"type":"bar","stroke":"#333","strokeWidth":0.7},"encoding":{"x":{"field":"s","type":"nominal","sort":null},"y":{"field":"q1","type":"quantitative"},"y2":{"field":"q3"},"color":{"field":"s","type":"nominal","scale":{"domain":["I","II","III"],"range":["#d8d820","#ea762c","#2a2a6a"]},"legend":null}}},
          {"data":{"name":"E"},"mark":{"type":"tick","color":"#222","thickness":1,"size":17},"encoding":{"x":{"field":"s","type":"nominal","sort":null},"y":{"field":"med","type":"quantitative"}}},
          {"data":{"values":[{}]},"mark":{"type":"rule","color":"#555"},"encoding":{"x":{"datum":"I"},"x2":{"datum":"II"},"y":{"datum":13.3}}},
          {"data":{"values":[{}]},"mark":{"type":"rule","color":"#555"},"encoding":{"x":{"datum":"I"},"y":{"datum":13.0},"y2":{"datum":13.3}}},
          {"data":{"values":[{}]},"mark":{"type":"rule","color":"#555"},"encoding":{"x":{"datum":"II"},"y":{"datum":13.0},"y2":{"datum":13.3}}},
          {"data":{"values":[{}]},"mark":{"type":"rule","color":"#555"},"encoding":{"x":{"datum":"I"},"x2":{"datum":"III"},"y":{"datum":14.3}}},
          {"data":{"values":[{}]},"mark":{"type":"rule","color":"#555"},"encoding":{"x":{"datum":"I"},"y":{"datum":14.0},"y2":{"datum":14.3}}},
          {"data":{"values":[{}]},"mark":{"type":"rule","color":"#555"},"encoding":{"x":{"datum":"III"},"y":{"datum":14.0},"y2":{"datum":14.3}}},
          {"data":{"values":[{}]},"mark":{"type":"text","fontSize":11,"color":"#444","baseline":"middle","dx":13},"encoding":{"x":{"datum":"I"},"y":{"datum":13.6},"text":{"value":"**"}}},
          {"data":{"values":[{}]},"mark":{"type":"text","fontSize":11,"color":"#444","baseline":"middle"},"encoding":{"x":{"datum":"II"},"y":{"datum":14.6},"text":{"value":"**"}}}
         ]
        }]
       }
      ]
     }
    ]
   }
  ]
 },
 {
  "spacing":8,
  "resolve":{"scale":{"color":"independent"},"legend":{"color":"independent"}},
  "hconcat":[
   {
    "title":{"text":"F","anchor":"start","font":"Liberation Sans","fontWeight":"bold","fontSize":12,"offset":-4,"frame":"bounds"},
    "spacing":8,
    "resolve":{"scale":{"color":"independent"},"legend":{"color":"independent"}},
    "hconcat":[
     {
      "title":{"text":["LEE_LIVER_CANCER_","SURVIVAL_UP"],"fontSize":12.5,"lineHeight":14},
      "spacing":0,
      "bounds":"flush",
      "vconcat":[
       {"width":142,"height":62,"view":{"stroke":"#bbb"},
        "layer":[
         {"data":{"name":"F1"},"transform":[{"flatten":["x","es"]}],"mark":{"type":"line","color":"#7dc242","strokeWidth":1.3},
          "encoding":{"x":{"field":"x","type":"quantitative","scale":{"domain":[0,1],"nice":false},"axis":{"grid":true,"gridColor":"#e8e8e8","labels":false,"ticks":false,"domain":false,"title":null,"values":[0.2,0.4,0.6,0.8],"tickCount":20}},
           "y":{"field":"es","type":"quantitative","scale":{"domain":[-0.47,0.056],"nice":false,"zero":false},"axis":{"values":[0,-0.25,-0.45],"tickCount":20,"labelExpr":"datum.value == 0 ? '0.0' : format(datum.value, '.2f')","grid":true,"gridColor":"#e8e8e8","domain":false,"tickColor":"#888","title":"Enrichment score","titlePadding":5,"titleY":46}}}},
         {"data":{"values":[{}]},"mark":{"type":"text","align":"left","fontSize":12.5},"encoding":{"x":{"datum":0.02},"y":{"datum":-0.22},"text":{"value":"NES = \u22121.52"}}},
         {"data":{"values":[{}]},"mark":{"type":"text","align":"left","fontSize":12.5},"encoding":{"x":{"datum":0.02},"y":{"datum":-0.38},"text":{"value":"p = 0.038"}}}
        ]},
       {"width":142,"height":20,"view":{"stroke":"#bbb"},"data":{"name":"F1hits"},"transform":[{"flatten":["x"]}],"mark":{"type":"rule","color":"#111","strokeWidth":0.8},"encoding":{"x":{"field":"x","type":"quantitative","scale":{"domain":[0,1]},"axis":null}}},
       {"width":142,"height":7,"data":{"name":"heat"},"mark":{"type":"rect"},"encoding":{"x":{"field":"p0","type":"quantitative","scale":{"domain":[0,1],"nice":false},"axis":{"values":[0.2,0.8],"tickCount":20,"labelExpr":"datum.value < 0.5 ? 'ZNRD1 high' : 'ZNRD1 low'","ticks":false,"domain":false,"title":null,"labelFont":"Liberation Sans","labelFontSize":11.5,"labelPadding":3}},"x2":{"field":"p1"},"color":{"field":"p0","type":"quantitative","scale":{"domain":[0,0.3,0.6,0.95],"range":["#d6404e","#f0b6c8","#d4d4ec","#3a3aa6"]},"legend":null}}}
      ]
     },
     {
      "title":{"text":["LEE_LIVER_CANCER_","SURVIVAL_DN"],"fontSize":12.5,"lineHeight":14},
      "spacing":0,
      "bounds":"flush",
      "vconcat":[
       {"width":142,"height":62,"view":{"stroke":"#bbb"},
        "layer":[
         {"data":{"name":"F2"},"transform":[{"flatten":["x","es"]}],"mark":{"type":"line","color":"#7dc242","strokeWidth":1.3},
          "encoding":{"x":{"field":"x","type":"quantitative","scale":{"domain":[0,1],"nice":false},"axis":{"grid":true,"gridColor":"#e8e8e8","labels":false,"ticks":false,"domain":false,"title":null,"values":[0.2,0.4,0.6,0.8],"tickCount":20}},
           "y":{"field":"es","type":"quantitative","scale":{"domain":[-0.016,0.508],"nice":false,"zero":false},"axis":{"values":[0,0.2,0.45],"tickCount":20,"labels":false,"ticks":false,"grid":true,"gridColor":"#e8e8e8","domain":false,"title":null}}}},
         {"data":{"values":[{}]},"mark":{"type":"text","align":"left","fontSize":12.5},"encoding":{"x":{"datum":0.08},"y":{"datum":0.2},"text":{"value":"NES = 1.65"}}},
         {"data":{"values":[{}]},"mark":{"type":"text","align":"left","fontSize":12.5},"encoding":{"x":{"datum":0.08},"y":{"datum":0.065},"text":{"value":"p = 0.023"}}}
        ]},
       {"width":142,"height":20,"view":{"stroke":"#bbb"},"data":{"name":"F2hits"},"transform":[{"flatten":["x"]}],"mark":{"type":"rule","color":"#111","strokeWidth":0.8},"encoding":{"x":{"field":"x","type":"quantitative","scale":{"domain":[0,1]},"axis":null}}},
       {"width":142,"height":7,"data":{"name":"heat"},"mark":{"type":"rect"},"encoding":{"x":{"field":"p0","type":"quantitative","scale":{"domain":[0,1],"nice":false},"axis":{"values":[0.2,0.8],"tickCount":20,"labelExpr":"datum.value < 0.5 ? 'ZNRD1 high' : 'ZNRD1 low'","ticks":false,"domain":false,"title":null,"labelFont":"Liberation Sans","labelFontSize":11.5,"labelPadding":3}},"x2":{"field":"p1"},"color":{"field":"p0","type":"quantitative","scale":{"domain":[0,0.3,0.6,0.95],"range":["#d6404e","#f0b6c8","#d4d4ec","#3a3aa6"]},"legend":null}}}
      ]
     }
    ]
   },
   {
    "title":{"text":"G","anchor":"start","font":"Liberation Sans","fontWeight":"bold","fontSize":12,"offset":-4,"frame":"bounds"},
    "spacing":8,
    "hconcat":[
     {
      "title":{"text":"p = <0.001\u00a0\u00a0r = 0.47","fontSize":12.5,"anchor":"middle","offset":2},
      "vconcat":[{
       "width":138,"height":88,"view":{"stroke":"#555","strokeWidth":1.3},
       "layer":[
        {"data":{"name":"G1"},"mark":{"type":"circle","color":"#333","size":7,"opacity":0.7},"encoding":{"x":{"field":"x","type":"quantitative","scale":{"domain":[6.6,11.55],"nice":false,"zero":false},"axis":{"values":[7,8,9,10,11],"tickCount":20,"format":"d","title":"ZNRD1 expression","grid":true,"gridColor":"#e6e6e6","domain":false,"titleFontSize":12.5,"titlePadding":1}},"y":{"field":"y","type":"quantitative","scale":{"domain":[1.3,15.6],"nice":false,"zero":false},"axis":{"values":[5,10,15],"tickCount":20,"format":"d","title":"Ki-67 expression","grid":true,"gridColor":"#e6e6e6","domain":false,"titlePadding":2}}}},
        {"data":{"name":"G1fit"},"mark":{"type":"area","color":"#8f98c8","opacity":0.35},"encoding":{"x":{"field":"x","type":"quantitative"},"y":{"field":"lo","type":"quantitative"},"y2":{"field":"hi"}}},
        {"data":{"name":"G1fit"},"mark":{"type":"line","color":"#4556a8","strokeWidth":1.2},"encoding":{"x":{"field":"x","type":"quantitative"},"y":{"field":"y","type":"quantitative"}}}
       ]
      }]
     },
     {
      "title":{"text":"p =< 0.001\u00a0\u00a0r = 0.52","fontSize":12.5,"anchor":"middle","offset":2},
      "vconcat":[{
       "width":138,"height":88,"view":{"stroke":"#555","strokeWidth":1.3},
       "layer":[
        {"data":{"name":"G2"},"mark":{"type":"circle","color":"#333","size":7,"opacity":0.7},"encoding":{"x":{"field":"x","type":"quantitative","scale":{"domain":[6.56,11.4],"nice":false,"zero":false},"axis":{"values":[7,8,9,10,11],"tickCount":20,"format":"d","title":"ZNRD1 expression","grid":true,"gridColor":"#e6e6e6","domain":false,"titleFontSize":12.5,"titlePadding":1}},"y":{"field":"y","type":"quantitative","scale":{"domain":[8.6,14.7],"nice":false,"zero":false},"axis":{"values":[9,10,11,12,13,14],"tickCount":20,"format":"d","title":"PCNA expression","grid":true,"gridColor":"#e6e6e6","domain":false,"titlePadding":2}}}},
        {"data":{"name":"G2fit"},"mark":{"type":"area","color":"#8f98c8","opacity":0.35},"encoding":{"x":{"field":"x","type":"quantitative"},"y":{"field":"lo","type":"quantitative"},"y2":{"field":"hi"}}},
        {"data":{"name":"G2fit"},"mark":{"type":"line","color":"#4556a8","strokeWidth":1.2},"encoding":{"x":{"field":"x","type":"quantitative"},"y":{"field":"y","type":"quantitative"}}}
       ]
      }]
     }
    ]
   }
  ]
 },
 {
  "spacing":16,
  "resolve":{"scale":{"color":"independent"},"legend":{"color":"independent"}},
  "hconcat":[
   {
    "title":{"text":"H","anchor":"start","font":"Liberation Sans","fontWeight":"bold","fontSize":12,"offset":-14,"frame":"bounds"},
    "spacing":2,
    "resolve":{"scale":{"color":"independent"},"legend":{"color":"independent"}},
    "vconcat":[
     {"title":{"text":"TCGA HCC cohort","fontSize":12.5},"width":290,"height":144,
      "layer":[
       {"data":{"name":"H"},"transform":[{"flatten":["t","s"]}],"mark":{"type":"line","interpolate":"step-after","strokeWidth":1.6},
        "encoding":{"x":{"field":"t","type":"quantitative","scale":{"domain":[-0.57,10.45],"nice":false,"zero":false},"axis":{"values":[0,1,2,3,4,5,6,7,8,9,10],"tickCount":20,"labels":false,"title":null,"tickSize":4}},
         "y":{"field":"s","type":"quantitative","scale":{"domain":[-0.055,1.02],"nice":false,"zero":false},"axis":{"values":[0,0.25,0.5,0.75,1],"tickCount":20,"format":".2f","title":"Overall Survival (%)","tickSize":4,"titlePadding":1,"labelPadding":1}},
         "color":{"field":"g","type":"nominal","scale":{"domain":["ZNRD1 high","ZNRD1 low"],"range":["#26265f","#dcdc24"]},"legend":{"title":null,"orient":"top-right","offset":4,"symbolType":"M-2.2,0H2.2","symbolSize":100,"symbolStrokeWidth":8,"labelOffset":9,"labelFontSize":12.5,"rowPadding":-18}}}},
       {"data":{"values":[{}]},"mark":{"type":"text","align":"left","fontSize":12.5},"encoding":{"x":{"datum":-0.2},"y":{"datum":0.045},"text":{"value":"P = 0.0023"}}}
      ]},
     {"title":{"text":"Number at risk","anchor":"start","fontSize":12.5,"offset":3},"width":290,"height":26,
      "data":{"name":"Hrisk"},"transform":[{"flatten":["t","n"]}],
      "layer":[
       {"mark":{"type":"text","fontSize":12.5},"encoding":{"x":{"field":"t","type":"quantitative","scale":{"domain":[-0.57,10.45],"nice":false,"zero":false},"axis":{"values":[0,1,2,3,4,5,6,7,8,9,10],"tickCount":20,"format":"d","title":"Time (years)","labelFontSize":12,"titleFontSize":12.5,"tickSize":4,"titlePadding":0}},"y":{"field":"g","type":"nominal","scale":{"domain":["ZNRD1 high","ZNRD1 low"]},"axis":{"labels":false,"title":null,"tickSize":3}},"text":{"field":"n","type":"quantitative"}}},
       {"mark":{"type":"bar","height":7},"encoding":{"x":{"datum":-1.72},"x2":{"datum":-0.85},"y":{"field":"g","type":"nominal"},"color":{"field":"g","type":"nominal","scale":{"domain":["ZNRD1 high","ZNRD1 low"],"range":["#26265f","#dcdc24"]},"legend":null}}}
      ]}
    ]
   },
   {
    "title":{"text":"I","anchor":"start","font":"Liberation Sans","fontWeight":"bold","fontSize":12,"offset":-14,"frame":"bounds"},
    "spacing":2,
    "resolve":{"scale":{"color":"independent"},"legend":{"color":"independent"}},
    "vconcat":[
     {"title":{"text":"TCGA HCC cohort","fontSize":12.5},"width":290,"height":144,
      "layer":[
       {"data":{"name":"I"},"transform":[{"flatten":["t","s"]}],"mark":{"type":"line","interpolate":"step-after","strokeWidth":1.6},
        "encoding":{"x":{"field":"t","type":"quantitative","scale":{"domain":[-0.57,10.45],"nice":false,"zero":false},"axis":{"values":[0,1,2,3,4,5,6,7,8,9,10],"tickCount":20,"labels":false,"title":null,"tickSize":4}},
         "y":{"field":"s","type":"quantitative","scale":{"domain":[-0.055,1.02],"nice":false,"zero":false},"axis":{"values":[0,0.25,0.5,0.75,1],"tickCount":20,"format":".2f","title":"Disease-free Survival (%)","tickSize":4,"titlePadding":1,"labelPadding":1}},
         "color":{"field":"g","type":"nominal","scale":{"domain":["ZNRD1 high","ZNRD1 low"],"range":["#26265f","#dcdc24"]},"legend":{"title":null,"orient":"top-right","offset":4,"symbolType":"M-2.2,0H2.2","symbolSize":100,"symbolStrokeWidth":8,"labelOffset":9,"labelFontSize":12.5,"rowPadding":-18}}}},
       {"data":{"values":[{}]},"mark":{"type":"text","align":"left","fontSize":12.5},"encoding":{"x":{"datum":-0.2},"y":{"datum":0.045},"text":{"value":"P = 0.00033"}}}
      ]},
     {"title":{"text":"Number at risk","anchor":"start","fontSize":12.5,"offset":3},"width":290,"height":26,
      "data":{"name":"Irisk"},"transform":[{"flatten":["t","n"]}],
      "layer":[
       {"mark":{"type":"text","fontSize":12.5},"encoding":{"x":{"field":"t","type":"quantitative","scale":{"domain":[-0.57,10.45],"nice":false,"zero":false},"axis":{"values":[0,1,2,3,4,5,6,7,8,9,10],"tickCount":20,"format":"d","title":"Time (years)","labelFontSize":12,"titleFontSize":12.5,"tickSize":4,"titlePadding":0}},"y":{"field":"g","type":"nominal","scale":{"domain":["ZNRD1 high","ZNRD1 low"]},"axis":{"labels":false,"title":null,"tickSize":3}},"text":{"field":"n","type":"quantitative"}}},
       {"mark":{"type":"bar","height":7},"encoding":{"x":{"datum":-1.72},"x2":{"datum":-0.85},"y":{"field":"g","type":"nominal"},"color":{"field":"g","type":"nominal","scale":{"domain":["ZNRD1 high","ZNRD1 low"],"range":["#26265f","#dcdc24"]},"legend":null}}}
      ]}
    ]
   }
  ]
 },
 {
  "spacing":8,
  "resolve":{"scale":{"color":"independent"},"legend":{"color":"independent"}},
  "hconcat":[
   {
    "title":{"text":"J","anchor":"start","font":"Liberation Sans","fontWeight":"bold","fontSize":12,"offset":-6,"frame":"bounds"},
    "spacing":2,
    "resolve":{"scale":{"color":"independent"},"legend":{"color":"independent"}},
    "vconcat":[
     {"width":290,"height":144,
      "layer":[
       {"data":{"name":"J"},"transform":[{"flatten":["t","s"]}],"mark":{"type":"line","interpolate":"step-after","strokeWidth":1.6},
        "encoding":{"x":{"field":"t","type":"quantitative","scale":{"domain":[-0.57,10.45],"nice":false,"zero":false},"axis":{"values":[0,1,2,3,4,5,6,7,8,9,10],"tickCount":20,"labels":false,"title":null,"tickSize":4}},
         "y":{"field":"s","type":"quantitative","scale":{"domain":[-0.055,1.02],"nice":false,"zero":false},"axis":{"values":[0,0.25,0.5,0.75,1],"tickCount":20,"format":".2f","title":"Overall Survival (%)","tickSize":4,"titlePadding":1,"labelPadding":1}},
         "color":{"field":"g","type":"nominal","scale":{"domain":["ZNRD1 High & TNM I-II","ZNRD1 Low & TNM I-II","ZNRD1 High & TNM III-IV","ZNRD1 Low & TNM III-IV"],"range":["#7a7a7a","#dcdc24","#8b4a1d","#26265f"]},"legend":{"title":null,"orient":"none","legendX":118,"legendY":-10,"symbolType":"M-1.6,0H1.6","symbolSize":90,"symbolStrokeWidth":3,"labelOffset":7,"labelFontSize":10,"labelColor":"#333","rowPadding":-5}}}},
       {"data":{"values":[{}]},"mark":{"type":"text","align":"left","fontSize":12.5},"encoding":{"x":{"datum":-0.2},"y":{"datum":0.045},"text":{"value":"p < 0.0001"}}},
       {"data":{"values":[{}]},"mark":{"type":"text","align":"left","baseline":"middle","fontSize":18,"color":"#444"},"encoding":{"x":{"datum":9.3},"y":{"datum":1.012},"text":{"value":"]"}}},
       {"data":{"values":[{}]},"mark":{"type":"text","align":"left","baseline":"middle","fontSize":10.5},"encoding":{"x":{"datum":9.5},"y":{"datum":1.012},"text":{"value":"p = 0.0311"}}},
       {"data":{"values":[{}]},"mark":{"type":"text","align":"left","baseline":"middle","fontSize":18,"color":"#444"},"encoding":{"x":{"datum":9.3},"y":{"datum":0.845},"text":{"value":"]"}}},
       {"data":{"values":[{}]},"mark":{"type":"text","align":"left","baseline":"middle","fontSize":10.5},"encoding":{"x":{"datum":9.5},"y":{"datum":0.845},"text":{"value":"p = 0.051"}}}
      ]},
     {"title":{"text":"Number at risk","anchor":"start","fontSize":12.5,"offset":3},"width":290,"height":47,
      "data":{"name":"Jrisk"},"transform":[{"flatten":["t","n"]}],
      "layer":[
       {"mark":{"type":"text","fontSize":12.5},"encoding":{"x":{"field":"t","type":"quantitative","scale":{"domain":[-0.57,10.45],"nice":false,"zero":false},"axis":{"values":[0,1,2,3,4,5,6,7,8,9,10],"tickCount":20,"format":"d","title":"Time (years)","labelFontSize":12,"titleFontSize":12.5,"tickSize":4,"titlePadding":0}},"y":{"field":"g","type":"nominal","scale":{"domain":["ZNRD1 High & TNM I-II","ZNRD1 Low & TNM I-II","ZNRD1 High & TNM III-IV","ZNRD1 Low & TNM III-IV"]},"axis":{"labels":false,"title":null,"tickSize":3}},"text":{"field":"n","type":"quantitative"}}},
       {"mark":{"type":"bar","height":7},"encoding":{"x":{"datum":-1.72},"x2":{"datum":-0.85},"y":{"field":"g","type":"nominal"},"color":{"field":"g","type":"nominal","scale":{"domain":["ZNRD1 High & TNM I-II","ZNRD1 Low & TNM I-II","ZNRD1 High & TNM III-IV","ZNRD1 Low & TNM III-IV"],"range":["#7a7a7a","#dcdc24","#8b4a1d","#26265f"]},"legend":null}}}
      ]}
    ]
   },
   {
    "title":{"text":"K","anchor":"start","font":"Liberation Sans","fontWeight":"bold","fontSize":12,"offset":-6,"frame":"bounds"},
    "spacing":2,
    "resolve":{"scale":{"color":"independent"},"legend":{"color":"independent"}},
    "vconcat":[
     {"width":290,"height":144,
      "layer":[
       {"data":{"name":"K"},"transform":[{"flatten":["t","s"]}],"mark":{"type":"line","interpolate":"step-after","strokeWidth":1.6},
        "encoding":{"x":{"field":"t","type":"quantitative","scale":{"domain":[-0.57,10.45],"nice":false,"zero":false},"axis":{"values":[0,1,2,3,4,5,6,7,8,9,10],"tickCount":20,"labels":false,"title":null,"tickSize":4}},
         "y":{"field":"s","type":"quantitative","scale":{"domain":[-0.055,1.02],"nice":false,"zero":false},"axis":{"values":[0,0.25,0.5,0.75,1],"tickCount":20,"format":".2f","title":"Disease-free Survival (%)","tickSize":4,"titlePadding":1,"labelPadding":1}},
         "color":{"field":"g","type":"nominal","scale":{"domain":["ZNRD1 High & TNM I-II","ZNRD1 Low & TNM I-II","ZNRD1 High & TNM III-IV","ZNRD1 Low & TNM III-IV"],"range":["#7a7a7a","#dcdc24","#8b4a1d","#26265f"]},"legend":{"title":null,"orient":"none","legendX":92,"legendY":-10,"symbolType":"M-1.6,0H1.6","symbolSize":90,"symbolStrokeWidth":3,"labelOffset":7,"labelFontSize":10,"labelColor":"#333","rowPadding":-5}}}},
       {"data":{"values":[{}]},"mark":{"type":"text","align":"left","fontSize":12.5},"encoding":{"x":{"datum":-0.2},"y":{"datum":0.05},"text":{"value":"p < 0.0001"}}},
       {"data":{"values":[{}]},"mark":{"type":"text","align":"left","baseline":"middle","fontSize":18,"color":"#444"},"encoding":{"x":{"datum":8.25},"y":{"datum":1.012},"text":{"value":"]"}}},
       {"data":{"values":[{}]},"mark":{"type":"text","align":"left","baseline":"middle","fontSize":10.5},"encoding":{"x":{"datum":8.45},"y":{"datum":1.012},"text":{"value":"p = 0.027"}}},
       {"data":{"values":[{}]},"mark":{"type":"text","align":"left","baseline":"middle","fontSize":18,"color":"#444"},"encoding":{"x":{"datum":8.25},"y":{"datum":0.845},"text":{"value":"]"}}},
       {"data":{"values":[{}]},"mark":{"type":"text","align":"left","baseline":"middle","fontSize":10.5},"encoding":{"x":{"datum":8.45},"y":{"datum":0.845},"text":{"value":"p = 0.036"}}}
      ]},
     {"title":{"text":"Number at risk","anchor":"start","fontSize":12.5,"offset":3},"width":290,"height":47,
      "data":{"name":"Krisk"},"transform":[{"flatten":["t","n"]}],
      "layer":[
       {"mark":{"type":"text","fontSize":12.5},"encoding":{"x":{"field":"t","type":"quantitative","scale":{"domain":[-0.57,10.45],"nice":false,"zero":false},"axis":{"values":[0,1,2,3,4,5,6,7,8,9,10],"tickCount":20,"format":"d","title":"Time (years)","labelFontSize":12,"titleFontSize":12.5,"tickSize":4,"titlePadding":0}},"y":{"field":"g","type":"nominal","scale":{"domain":["ZNRD1 High & TNM I-II","ZNRD1 Low & TNM I-II","ZNRD1 High & TNM III-IV","ZNRD1 Low & TNM III-IV"]},"axis":{"labels":false,"title":null,"tickSize":3}},"text":{"field":"n","type":"quantitative"}}},
       {"mark":{"type":"bar","height":7},"encoding":{"x":{"datum":-1.72},"x2":{"datum":-0.85},"y":{"field":"g","type":"nominal"},"color":{"field":"g","type":"nominal","scale":{"domain":["ZNRD1 High & TNM I-II","ZNRD1 Low & TNM I-II","ZNRD1 High & TNM III-IV","ZNRD1 Low & TNM III-IV"],"range":["#7a7a7a","#dcdc24","#8b4a1d","#26265f"]},"legend":null}}}
      ]}
    ]
   }
  ]
 }
]
}
